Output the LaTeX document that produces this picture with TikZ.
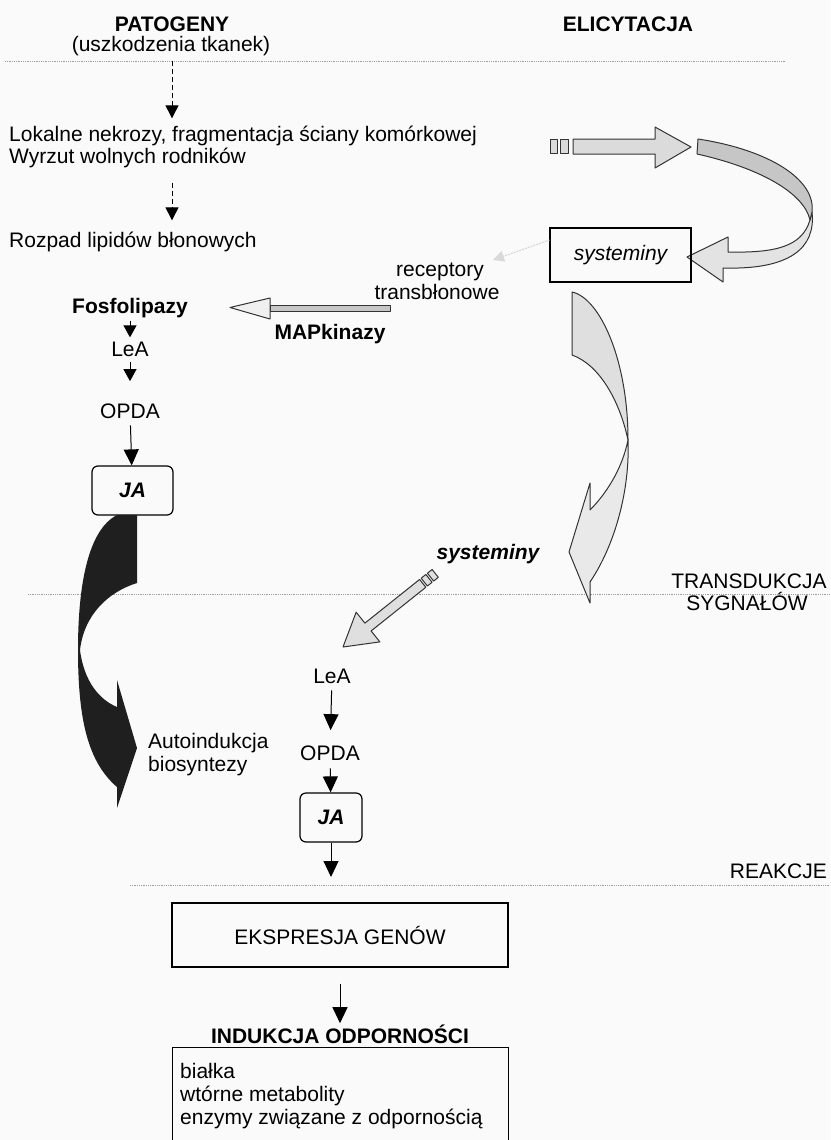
\documentclass[tikz,border=0pt]{standalone}
\usepackage{fontspec}
\setmainfont{Liberation Sans}
\usetikzlibrary{arrows.meta}
\begin{document}
\begin{tikzpicture}[x=1pt,y=-1pt,
  rf/.style={font=\fontsize{21}{23.5}\selectfont},
  bf/.style={font=\fontsize{21}{23.5}\selectfont\bfseries},
  txt/.style={rf,inner sep=0pt,anchor=base},
  btxt/.style={bf,inner sep=0pt,anchor=base},
  ltxt/.style={rf,inner sep=0pt,anchor=base west},
  dotline/.style={gray!75,line width=0.9pt,dash pattern=on 0.9pt off 0.9pt},
  arr/.style={line width=1pt,-{Triangle[length=16pt,width=15pt]}},
  smallarr/.style={line width=1pt,-{Triangle[length=12pt,width=13pt]}},
  dasharr/.style={line width=1pt,dash pattern=on 5pt off 3pt,-{Triangle[length=13pt,width=13pt]}},
  blockfill/.style={draw=black!80,line width=1pt,line join=round},
  boxstyle/.style={draw,line width=1.2pt,inner sep=0pt,rf},
]
\fill[gray!4] (0,0) rectangle (830,1140);
\useasboundingbox (0,0) rectangle (830,1140);

% separator lines
\draw[dotline] (5,61) -- (785,61);
\draw[dotline] (28,594) -- (830,594);
\draw[dotline] (130,885) -- (830,885);

% headers
\node[btxt] (pat) at (172,32) {PATOGENY};
\node[txt] (usz) at (171,52) {(uszkodzenia tkanek)};
\node[btxt] (eli) at (628,32) {ELICYTACJA};

% left upper chain
\coordinate (d1) at (172,61);
\node[ltxt] (lok1) at (9,141) {Lokalne nekrozy, fragmentacja ściany komórkowej};
\node[ltxt] (lok2) at (9,163) {Wyrzut wolnych rodników};
\node[ltxt] (roz) at (9,247) {Rozpad lipidów błonowych};
\draw[dasharr,shorten >=7pt] (d1) -- (d1 |- lok1.north);
\draw[dasharr,shorten <=15pt,shorten >=11pt] (d1 |- lok2.south) -- (d1 |- roz.north);

% top right straight block arrow
\draw[blockfill,fill=gray!28] (550,139) rectangle (557,153);
\draw[blockfill,fill=gray!28] (560,139) rectangle (568,153);
\draw[blockfill,fill=gray!28] (573,139) -- (655,139) -- (655,127) -- (691,147) -- (655,168) -- (655,154) -- (573,154) -- cycle;

% top curved arrow (twisted ribbon)
\draw[blockfill,fill=gray!22] (810,220) .. controls (802,247) and (775,253) .. (728,252) -- (728,237) -- (687,257) -- (723,282) -- (723,268) .. controls (790,270) and (816,248) .. (812,212) -- cycle;
\draw[blockfill,fill=gray!45] (698,139) .. controls (770,150) and (816,180) .. (812,212) -- (810,220) .. controls (804,193) and (760,168) .. (697,154) -- cycle;

% systeminy box
\node[boxstyle,minimum width=141,minimum height=54,font=\fontsize{21}{23.5}\selectfont\itshape] (sys) at (620.5,255) {systeminy};

% receptory
\node[txt] (rec1) at (440,276) {receptory};
\node[txt] (rec2) at (437,299) {transbłonowe};
\coordinate (rtip) at (493,260);
\draw[gray!30,line width=1.2pt,dash pattern=on 2pt off 1pt,-{Triangle[length=11pt,width=11pt]}] ([yshift=15pt]sys.west) -- (rtip);

% MAPkinazy block arrow
\node[btxt] (fos) at (130,313) {Fosfolipazy};
\node[btxt] (map) at (330,339) {MAPkinazy};
\draw[blockfill,fill=gray!45] (270,305) rectangle (390,311);
\draw[blockfill,fill=gray!12] (270,298) -- (230,307.5) -- (270,319) -- cycle;

% left chain
\node[txt] (lea1) at (130,356) {LeA};
\node[txt] (opda1) at (130,418) {OPDA};
\node[boxstyle,rounded corners=6pt,minimum width=81,minimum height=49] (ja1) at (132.5,490.5) {\bfseries\itshape JA};
\draw[smallarr,shorten <=3pt,shorten >=4pt] (fos) -- (lea1);
\draw[smallarr,shorten <=6pt,shorten >=22pt] (lea1) -- (opda1);
\draw[arr,shorten <=7pt] (opda1) -- (ja1);

% black twisted arrow
\fill[black!88] (117,515) -- (137,515) -- (137,583) .. controls (108,592) and (84,615) .. (80,650) .. controls (84,682) and (100,700) .. (117,707) -- (117,680) -- (137,748) -- (117,808) -- (117,787) .. controls (88,762) and (78,720) .. (78,650) .. controls (78,585) and (88,530) .. (117,515) -- cycle;
\node[ltxt] (auto1) at (148,748) {Autoindukcja};
\node[ltxt] (auto2) at (148,771) {biosyntezy};

% middle gray twisted arrow
\draw[blockfill,fill=gray!25] (572,292) .. controls (600,298) and (628,360) .. (628,440) .. controls (620,402) and (600,365) .. (572,355) -- cycle;
\draw[blockfill,fill=gray!17] (628,440) .. controls (622,470) and (605,495) .. (590,510) -- (590,483) -- (569,552) -- (590,603) -- (590,582) .. controls (615,545) and (630,490) .. (628,440) -- cycle;

% systeminy diagonal arrow
\node[btxt,font=\fontsize{21}{23.5}\selectfont\bfseries\itshape] (sys2) at (488,559) {systeminy};
\begin{scope}[shift={(343,647)},rotate=38.6]
  \draw[blockfill,fill=gray!25] (0,0) -- (32,-19) -- (32,-5) -- (102,-5) -- (102,5) -- (32,5) -- (32,19) -- cycle;
  \draw[blockfill,fill=gray!25] (104,-5) rectangle (110,5);
  \draw[blockfill,fill=gray!25] (112,-5) rectangle (118,5);
\end{scope}

% labels on right
\node[txt] (trans1) at (749,588) {TRANSDUKCJA};
\node[txt] (trans2) at (747,610) {SYGNAŁÓW};
\node[txt,anchor=base east] (reak) at (827,878) {REAKCJE};

% right chain
\node[txt] (lea2) at (332,683) {LeA};
\node[txt] (opda2) at (330,760) {OPDA};
\node[boxstyle,rounded corners=6pt,minimum width=62,minimum height=49] (ja2) at (331,817.5) {\bfseries\itshape JA};
\coordinate (r3) at (331,877);
\draw[arr,shorten <=7pt,shorten >=15pt] (lea2) -- (opda2);
\draw[arr,shorten <=8pt] (opda2) -- (ja2);
\draw[arr] (ja2) -- (r3);

% bottom
\node[boxstyle,minimum width=336,minimum height=64] (eks) at (340,935) {EKSPRESJA GENÓW};
\node[btxt] (ind) at (340,1043) {INDUKCJA ODPORNOŚCI};
\draw[arr,shorten <=16pt,shorten >=1pt] (eks) -- (ind);
\node[draw,line width=1.2pt,inner sep=0pt,anchor=north west,minimum width=336,minimum height=120] (resp) at (172,1047) {};
\node[ltxt] (b1) at (180,1078) {białka};
\node[ltxt] (b2) at (180,1101) {wtórne metabolity};
\node[ltxt] (b3) at (180,1124) {enzymy związane z odpornością};
\end{tikzpicture}
\end{document}
